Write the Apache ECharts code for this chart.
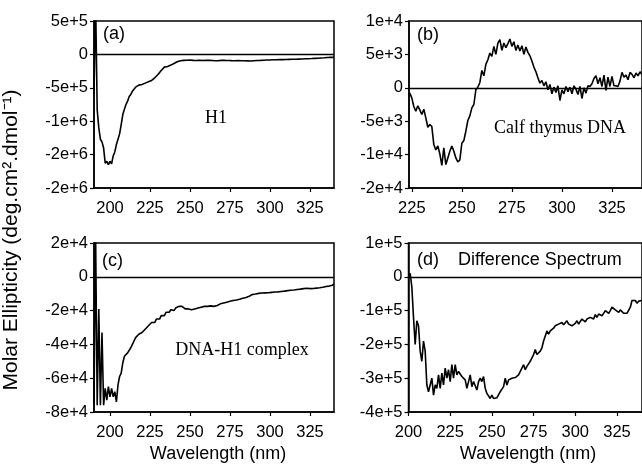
<!DOCTYPE html>
<html><head><meta charset="utf-8">
<script src="https://cdn.jsdelivr.net/npm/echarts@6/dist/echarts.min.js"></script>
<style>html,body{margin:0;padding:0;background:#fff}#c{width:642px;height:470px}</style>
</head><body><div id="c"></div>
<script>
// wavelength sampling (nm, 1 nm steps)
const startA = 190, startB = 224, startC = 190, startD = 200;

// (a) H1
const valuesA = [
 -6e5, 8e5, -8.3e5, -1.1e6, -1.27e6, -1.31e6, -1.4e6, -1.63e6, -1.6e6, -1.65e6,
 -1.6e6, -1.64e6, -1.52e6, -1.46e6, -1.35e6, -1.27e6, -1.19e6, -1.05e6, -0.9e6, -0.82e6,
 -0.75e6, -0.7e6, -0.63e6, -0.6e6, -0.55e6, -0.52e6, -0.49e6, -0.48e6, -0.46e6, -0.47e6,
 -0.45e6, -0.44e6, -0.43e6, -0.42e6, -0.41e6, -0.4e6, -0.39e6, -0.37e6, -0.35e6, -0.33e6,
 -0.3e6, -0.27e6, -0.24e6, -0.22e6, -0.19e6, -0.2e6, -0.18e6, -0.17e6, -0.16e6, -0.145e6,
 -0.135e6, -0.12e6, -0.11e6, -0.1e6, -0.095e6, -0.085e6, -0.09e6, -0.08e6, -0.088e6, -0.082e6,
 -8.5e4, -7.6e4, -9e4, -8e4, -9.2e4, -8.2e4, -8.9e4, -7.7e4, -9.1e4, -8.1e4,
 -8.8e4, -7.5e4, -9e4, -8.2e4, -9.2e4, -8.3e4, -9.5e4, -8.5e4, -9.3e4, -9.6e4,
 -8.8e4, -9.8e4, -9e4, -1e5, -9.1e4, -9.9e4, -9.3e4, -1.02e5, -9.4e4, -1.01e5,
 -9.2e4, -1.03e5, -9.5e4, -1.04e5, -9.6e4, -1.05e5, -9.7e4, -1.07e5, -9.8e4, -1.04e5,
 -9.4e4, -1.02e5, -9.2e4, -1.01e5, -9e4, -9.8e4, -8.7e4, -9.6e4, -8.4e4, -9.3e4,
 -8.3e4, -9.1e4, -8e4, -9e4, -7.9e4, -8.8e4, -7.7e4, -8.7e4, -7.8e4, -8.6e4,
 -7.6e4, -8.5e4, -7.4e4, -8.4e4, -7.3e4, -8.2e4, -7.2e4, -8.1e4, -7e4, -7.9e4,
 -6.8e4, -7.7e4, -6.6e4, -7.6e4, -6.4e4, -7.3e4, -6.2e4, -7.1e4, -5.9e4, -6.8e4,
 -5.7e4, -6.5e4, -5.4e4, -6.2e4, -5.1e4, -5.9e4, -4.6e4, -5.4e4, -4.4e4, -5.2e4,
 -4.4e4
];

// (b) Calf thymus DNA
const valuesB = [
 -800, -1500, -2800, -3500, -2700, -3300, -4000, -3200, -4500, -5900,
 -5500, -5800, -8500, -9300, -8700, -9900, -11600, -9000, -11500, -10500,
 -9500, -8700, -9500, -10500, -11100, -10800, -8300, -7900, -6500, -4900,
 -4200, -3000, -2500, -300, 100, 800, 2600, 1800, 3500, 4200,
 5200, 4700, 6200, 5000, 6700, 7200, 5600, 6700, 6000, 6600,
 7300, 6200, 6900, 5600, 6400, 5500, 6300, 5000, 6100, 5300,
 4800, 4000, 3100, 2400, 1500, 700, 1100, 300, 900, -300,
 500, -900, 100, -700, 300, -1900, -300, -900, 200, -600,
 100, -900, 300, -200, -1000, 200, -1600, 0, -800, 300,
 200, 600, 1400, 1800, 600, 1500, 200, 1900, -400, 1600,
 200, 1700, 300, 300, 200, 1000, 2300, 1600, 1900, 1200,
 2300, 2000, 1500, 2200, 1800, 2400, 2000
];

// (c) DNA-H1 complex
const valuesC = [
 -7.5e4, 2.5e4, -7.6e4, -1.9e4, -7.6e4, -3.3e4, -7.6e4, -6.6e4, -7.3e4, -6.5e4,
 -7.1e4, -6.6e4, -7.1e4, -6.8e4, -7.4e4, -6.4e4, -5.9e4, -5.7e4, -5.1e4, -4.7e4,
 -4.7e4, -4.5e4, -4.4e4, -4.2e4, -4e4, -3.9e4, -3.6e4, -3.7e4, -3.4e4, -3.5e4,
 -3.3e4, -3.2e4, -3.1e4, -3.2e4, -2.9e4, -2.8e4, -2.7e4, -2.6e4, -2.7e4, -2.5e4,
 -2.4e4, -2.5e4, -2.3e4, -2.2e4, -2.3e4, -2.1e4, -2.05e4, -2.1e4, -1.95e4, -1.9e4,
 -2e4, -1.85e4, -1.8e4, -1.75e4, -1.7e4, -1.75e4, -1.8e4, -1.9e4, -1.95e4, -1.9e4,
 -2e4, -1.95e4, -1.98e4, -1.9e4, -1.95e4, -1.85e4, -1.88e4, -1.8e4, -1.85e4, -1.75e4,
 -1.8e4, -1.75e4, -1.78e4, -1.72e4, -1.8e4, -1.75e4, -1.82e4, -1.7e4, -1.68e4, -1.6e4,
 -1.63e4, -1.55e4, -1.58e4, -1.5e4, -1.52e4, -1.45e4, -1.48e4, -1.4e4, -1.43e4, -1.37e4,
 -1.4e4, -1.33e4, -1.35e4, -1.27e4, -1.3e4, -1.22e4, -1.25e4, -1.15e4, -1.2e4, -1.05e4,
 -1.1e4, -1.02e4, -1.06e4, -9.8e3, -1.04e4, -9.6e3, -1.02e4, -9.5e3, -1e4, -9.4e3,
 -9.9e3, -9.2e3, -9.8e3, -9e3, -9.6e3, -8.9e3, -9.4e3, -8.7e3, -9.2e3, -8.5e3,
 -8.9e3, -8.2e3, -8.7e3, -8e3, -8.5e3, -7.8e3, -8.3e3, -7.5e3, -8e3, -7.3e3,
 -7.8e3, -7e3, -7.6e3, -6.8e3, -7.5e3, -7e3, -7.6e3, -6.9e3, -7.5e3, -6.7e3,
 -7.2e3, -6.5e3, -7e3, -6.2e3, -6.6e3, -5.7e3, -5e3, -5.5e3, -4.6e3, -5e3,
 -4.3e3
];

// (d) Difference spectrum
const valuesD = [
 0, 1e4, -3e4, -1.2e5, -2e5, -1.3e5, -1.45e5, -2.2e5, -2.5e5, -1.9e5,
 -2.2e5, -3.2e5, -3.4e5, -3.45e5, -3e5, -3.5e5, -3.2e5, -3.3e5, -2.9e5, -3.3e5,
 -2.85e5, -3.2e5, -2.7e5, -3e5, -2.75e5, -3.1e5, -2.6e5, -3e5, -2.6e5, -2.9e5,
 -2.8e5, -2.85e5, -2.95e5, -2.9e5, -3.05e5, -3.3e5, -3.1e5, -2.9e5, -3.25e5, -3.1e5,
 -3.05e5, -3.35e5, -3.1e5, -3e5, -3.1e5, -2.95e5, -3.3e5, -3.45e5, -3.45e5, -3.6e5,
 -3.5e5, -3.6e5, -3.55e5, -3.58e5, -3.6e5, -3.4e5, -3.35e5, -3.25e5, -3e5, -3.2e5,
 -3.05e5, -3.1e5, -3e5, -3.05e5, -2.98e5, -3e5, -2.9e5, -2.85e5, -2.7e5, -2.6e5,
 -2.75e5, -2.65e5, -2.6e5, -2.5e5, -2.4e5, -2.3e5, -2.15e5, -2.3e5, -2.35e5, -2.2e5,
 -2.1e5, -1.9e5, -1.75e5, -1.6e5, -1.7e5, -1.6e5, -1.55e5, -1.52e5, -1.45e5, -1.5e5,
 -1.4e5, -1.45e5, -1.35e5, -1.42e5, -1.38e5, -1.3e5, -1.4e5, -1.35e5, -1.45e5, -1.5e5,
 -1.38e5, -1.3e5, -1.4e5, -1.32e5, -1.25e5, -1.2e5, -1.33e5, -1.25e5, -1.3e5, -1.2e5,
 -1.15e5, -1.25e5, -1.12e5, -1.2e5, -1.1e5, -1.05e5, -1.15e5, -1.08e5, -1e5, -9.5e4,
 -1.08e5, -1e5, -9e4, -8.8e4, -9.8e4, -1e5, -1.05e5, -9.8e4, -1.02e5, -1.08e5,
 -1.1e5, -1.08e5, -1.1e5, -9e4, -7e4, -7.5e4, -7e4, -7.8e4, -7.2e4, -7.5e4,
 -7e4
];

// axis ticks and labels
const xTicksLeft = [200, 225, 250, 275, 300, 325];
const xTicksB = [225, 250, 275, 300, 325];
const xTicksD = [200, 225, 250, 275, 300, 325];
const yTicksA = [-2e6, -1.5e6, -1e6, -5e5, 0, 5e5];
const yLabelsA = ['-2e+6', '-2e+6', '-1e+6', '-5e+5', '0', '5e+5'];
const yTicksB = [-1.5e4, -1e4, -5e3, 0, 5e3, 1e4];
const yLabelsB = ['-2e+4', '-1e+4', '-5e+3', '0', '5e+3', '1e+4'];
const yTicksC = [-8e4, -6e4, -4e4, -2e4, 0, 2e4];
const yLabelsC = ['-8e+4', '-6e+4', '-4e+4', '-2e+4', '0', '2e+4'];
const yTicksD = [-4e5, -3e5, -2e5, -1e5, 0, 1e5];
const yLabelsD = ['-4e+5', '-3e+5', '-2e+5', '-1e+5', '0', '1e+5'];

function toPairs(start, vals) { return vals.map((v, i) => [start + i, v]); }

const SANS = '"Liberation Sans", Arial, sans-serif';
const SERIF = '"Liberation Serif", "Times New Roman", serif';
const TICK_FS = 16.5;

const grids = [
  {left: 94, top: 21, width: 240, height: 167},
  {left: 409, top: 21, width: 242, height: 167},
  {left: 94, top: 243, width: 240, height: 169},
  {left: 408.5, top: 243, width: 241, height: 169}
].map(g => Object.assign(g, {show: true, borderColor: '#000', borderWidth: 1.5, backgroundColor: 'transparent', containLabel: false}));

const panels = [
  {xMin: 190, xMax: 340, xTicks: xTicksLeft, yT: yTicksA, yL: yLabelsA, data: toPairs(startA, valuesA)},
  {xMin: 223.6, xMax: 340, xTicks: xTicksB, yT: yTicksB, yL: yLabelsB, data: toPairs(startB, valuesB)},
  {xMin: 190, xMax: 340, xTicks: xTicksLeft, yT: yTicksC, yL: yLabelsC, data: toPairs(startC, valuesC)},
  {xMin: 200, xMax: 340, xTicks: xTicksD, yT: yTicksD, yL: yLabelsD, data: toPairs(startD, valuesD)}
];

const xAxis = panels.map((p, i) => ({
  type: 'value', gridIndex: i, min: p.xMin, max: p.xMax,
  axisLine: {show: true, onZero: false, lineStyle: {color: '#000', width: 1.5}},
  axisTick: {show: true, inside: false, length: 4, customValues: p.xTicks, lineStyle: {color: '#000', width: 1.2}},
  axisLabel: {show: true, customValues: p.xTicks, margin: 12, color: '#000', fontFamily: SANS, fontSize: TICK_FS},
  splitLine: {show: false}
}));

const yAxis = panels.map((p, i) => ({
  type: 'value', gridIndex: i, min: p.yT[0], max: p.yT[p.yT.length - 1],
  interval: p.yT[1] - p.yT[0],
  axisLine: {show: true, onZero: false, lineStyle: {color: '#000', width: 1.5}},
  axisTick: {show: true, inside: false, length: 4, lineStyle: {color: '#000', width: 1.2}},
  axisLabel: {show: true, margin: 6, color: '#000', fontFamily: SANS, fontSize: TICK_FS,
    formatter: v => { const k = p.yT.findIndex(t => Math.abs(t - v) < 1e-6 * Math.abs(p.yT[0])); return k >= 0 ? p.yL[k] : ''; }},
  splitLine: {show: false}
}));

const series = panels.map((p, i) => ({
  type: 'line', xAxisIndex: i, yAxisIndex: i, data: p.data,
  showSymbol: false, symbol: 'none', clip: true, animation: false,
  lineStyle: {color: '#000', width: 1.6},
  markLine: {silent: true, symbol: ['none', 'none'], label: {show: false}, animation: false,
    lineStyle: {color: '#000', width: 1.3, type: 'solid'}, data: [{yAxis: 0}]}
}));

function txt(x, y, s, font, size, align) {
  return {type: 'text', x: x, y: y, silent: true,
    style: {text: s, fill: '#000', font: size + 'px ' + font, textAlign: align || 'left', textVerticalAlign: 'middle'}};
}

const graphic = [
  txt(103, 34, '(a)', SANS, 18),
  txt(216, 118, 'H1', SERIF, 18, 'center'),
  txt(417, 35, '(b)', SANS, 18),
  txt(560, 128, 'Calf thymus DNA', SERIF, 18, 'center'),
  txt(102, 261, '(c)', SANS, 18),
  txt(242, 350, 'DNA-H1 complex', SERIF, 18, 'center'),
  txt(417, 260, '(d)', SANS, 18),
  txt(458, 260, 'Difference Spectrum', SANS, 18),
  txt(218, 454, 'Wavelength (nm)', SANS, 18, 'center'),
  txt(528, 454, 'Wavelength (nm)', SANS, 18, 'center'),
  {type: 'text', x: 11, y: 240, rotation: Math.PI / 2, silent: true,
    style: {text: 'Molar Ellipticity (deg.cm\u00B2.dmol\u207B\u00B9)', fill: '#000', font: '21px ' + SANS, textAlign: 'center', textVerticalAlign: 'middle'}}
];

const chart = echarts.init(document.getElementById('c'), null, {renderer: 'canvas'});
chart.setOption({animation: false, backgroundColor: '#fff', grid: grids, xAxis: xAxis, yAxis: yAxis, series: series, graphic: graphic});
</script>
</body></html>
